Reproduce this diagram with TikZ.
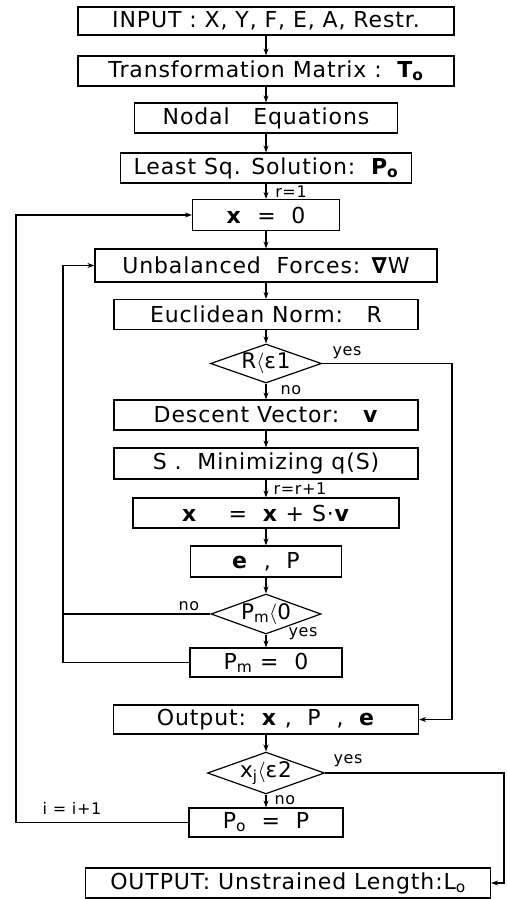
\documentclass[tikz,border=0pt]{standalone}
\usepackage{fontspec}
\setmainfont{DejaVu Sans}[LetterSpace=4]
\usetikzlibrary{shapes.geometric,arrows.meta}
\begin{document}
\begin{tikzpicture}[x=1pt,y=-1pt,
  box/.style={draw,line width=1.2pt,inner sep=0pt,minimum height=30pt,font=\fontsize{22}{24}\selectfont},
  dia/.style={draw,line width=1.2pt,diamond,inner sep=0pt,aspect=2.8,font=\fontsize{21.5}{22}\selectfont},
  lbl/.style={inner sep=0pt,font=\fontsize{16}{18}\selectfont},
  conn/.style={line width=1.2pt},
  arr/.style={line width=1.2pt,-{Stealth[length=7pt,width=5pt]}}]
\useasboundingbox (0,0) rectangle (506,899);
\node[box,minimum width=376pt,minimum height=28pt] (inp) at (266,21) {INPUT : X, Y, F, E, A, Restr.};
\node[box,minimum width=376pt] (tm) at (266,71) {Transformation Matrix :\ \ \textbf{T\textsubscript{o}}};
\node[box,minimum width=263pt] (ne) at (266,118) {Nodal\ \ \ Equations};
\node[box,minimum width=291pt] (ls) at (266,168) {Least Sq. Solution:\ \ \textbf{P\textsubscript{o}}};
\node[box,minimum width=147pt,minimum height=31pt] (x0) at (266,215) {\textbf{x}\ \ =\ \ 0};
\node[box,minimum width=342pt,minimum height=33pt] (ub) at (266,265.5) {Unbalanced\ \ Forces: \textbf{∇}W};
\node[box,minimum width=304pt] (en) at (266,314.5) {Euclidean Norm:\ \ \ R};
\node[dia,minimum width=111pt,minimum height=39pt] (d1) at (266,363.5) {R$\langle$ε1};
\node[box,minimum width=304pt] (dv) at (266,415) {Descent\ Vector:\ \ \ \textbf{v}};
\node[box,minimum width=304pt,minimum height=31pt] (sm) at (266,463.5) {S .\ \ Minimizing q(S)};
\node[box,minimum width=266pt] (xu) at (266,513) {\textbf{x}\ \ \ \ =\ \ \textbf{x} + S·\textbf{v}};
\node[box,minimum width=151pt,minimum height=31pt] (ep) at (266,561.5) {\textbf{e}\ \ ,\ \ P};
\node[dia,minimum width=110pt,minimum height=40pt] (d2) at (266,614) {P\textsubscript{m}$\langle$0};
\node[box,minimum width=152pt,minimum height=29pt] (pm) at (266,662.5) {P\textsubscript{m} =\ \ 0};
\node[box,minimum width=305pt,minimum height=29pt] (out) at (266,719.5) {Output:\ \ \textbf{x}\ ,\ \ P\ \ ,\ \ \textbf{e}};
\node[dia,minimum width=109pt,minimum height=40pt] (d3) at (266,773) {x\textsubscript{j}$\langle$ε2};
\node[box,minimum width=405pt] (fin) at (288,883) {OUTPUT: Unstrained Length:L\textsubscript{o}};
\node[box,minimum width=154pt,minimum height=29pt] (po) at (266,822.5) {P\textsubscript{o}\ \ =\ \ P};
% labels
\node[lbl] (l1) at (291,192) {r=1};
\node[lbl] (l2) at (347,353) {yes};
\node[lbl] (l3) at (291,390) {no};
\node[lbl] (l4) at (300,489) {r=r+1};
\node[lbl] (l5) at (189,606) {no};
\node[lbl] (l6) at (303,634) {yes};
\node[lbl] (l7) at (348,761) {yes};
\node[lbl] (l8) at (285,800) {no};
\node[lbl] (l9) at (72,808) {i = i+1};
% helper coordinates
\coordinate (ol) at (16,0);
\coordinate (il) at (63,0);
\coordinate (r1) at (452,0);
\coordinate (r2) at (504,0);
% main flow
\draw[arr] (inp) -- (tm);
\draw[arr] (tm) -- (ne);
\draw[arr] (ne) -- (ls);
\draw[arr] (ls) -- (x0);
\draw[arr] (x0) -- (ub);
\draw[arr] (ub) -- (en);
\draw[arr] (en) -- (d1);
\draw[arr] (d1) -- (dv);
\draw[arr] (dv) -- (sm);
\draw[arr] (sm) -- (xu);
\draw[arr] (xu) -- (ep);
\draw[arr] (ep) -- (d2);
\draw[arr] (d2) -- (pm);
\draw[arr] (out) -- (d3);
\draw[arr] (d3) -- (po);
% loops
\draw[arr] (po.west) -- (po.west -| ol) -- (ol |- x0.west) -- (x0.west);
\draw[arr] (pm.west) -- (pm.west -| il) -- (il |- ub.west) -- (ub.west);
\draw[conn] (d2.west) -- (d2.west -| il);
\draw[arr] (d1.east) -- (d1.east -| r1) -- (r1 |- out.east) -- (out.east);
\draw[arr] (d3.east) -- (d3.east -| r2) -- (r2 |- fin.east) -- (fin.east);
\end{tikzpicture}
\end{document}
